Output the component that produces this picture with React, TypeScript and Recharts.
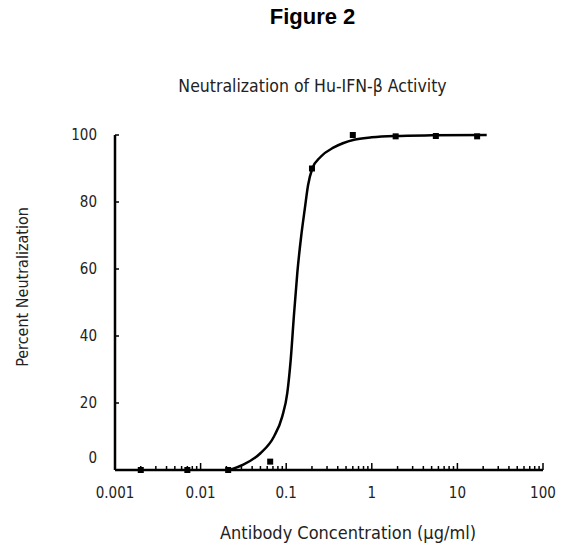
import React from 'react';
import { ComposedChart, Line, Scatter, XAxis, YAxis } from 'recharts';

// measured points (antibody conc, % neutralization)
const concentrations = [0.002, 0.007, 0.021, 0.065, 0.2, 0.6, 1.9, 5.6, 17];
const neutralization = [0, 0, 0, 2.5, 90, 100, 99.6, 99.7, 99.6];

// fitted curve
const curveX = [0.022, 0.031, 0.05, 0.072, 0.09, 0.103, 0.113, 0.123, 0.135, 0.15, 0.165, 0.18, 0.202, 0.253, 0.36, 0.62, 1.0, 1.85, 5, 22];
const curveY = [0, 1.5, 5, 10, 16, 23, 33, 46, 59, 70, 78, 85, 90, 93.5, 96.3, 98.6, 99.3, 99.7, 99.9, 100];

const xDecades = [0.001, 0.01, 0.1, 1, 10, 100];
const xDecadeLabels = ['0.001', '0.01', '0.1', '1', '10', '100'];
const yTicks = [0, 20, 40, 60, 80, 100];

const points = concentrations.map((x, i) => ({ x, y: neutralization[i] }));
const curve = curveX.map((x, i) => ({ x, y: curveY[i] }));

// decade ticks plus the 2..9 minor ticks in between
const xTicks: number[] = [];
xDecades.forEach((d, i) => {
  xTicks.push(d);
  if (i < xDecades.length - 1) {
    for (let m = 2; m <= 9; m++) xTicks.push(+(d * m).toPrecision(3));
  }
});

const FONT = "'DejaVu Sans Condensed', 'Liberation Sans Narrow', Arial, sans-serif";

const XTick = (props: any) => {
  const { x, y, payload } = props;
  const idx = xDecades.indexOf(payload.value);
  const major = idx >= 0;
  return (
    <g>
      <line x1={x} x2={x} y1={y} y2={y - (major ? 7 : 4)} stroke="#000" strokeWidth={1.5} />
      {major && (
        <text x={x} y={y + 28} textAnchor="middle" fontSize={15} fill="#222" fontFamily={FONT}>
          {xDecadeLabels[idx]}
        </text>
      )}
    </g>
  );
};

const YTick = (props: any) => {
  const { x, y, payload } = props;
  const v = payload.value;
  return (
    <g>
      {v > 0 && <line x1={x} x2={x + 4} y1={y} y2={y} stroke="#000" strokeWidth={1.5} />}
      <text x={x - 18} y={v === 0 ? y - 7 : y + 5} textAnchor="end" fontSize={15} fill="#222" fontFamily={FONT}>
        {v}
      </text>
    </g>
  );
};

const SquareDot = (props: any) => {
  const { cx, cy } = props;
  return <rect x={cx - 3} y={cy - 3} width={6} height={6} fill="#000" />;
};

export default function App() {
  return (
    <div style={{ position: 'absolute', left: 0, top: 0, width: 565, height: 546, background: '#fff' }}>
      <div style={{ position: 'absolute', left: 0, width: 565, top: 4, textAlign: 'center', paddingLeft: 60, boxSizing: 'border-box', fontFamily: 'Arial, "Liberation Sans", sans-serif', fontWeight: 'bold', fontSize: 22 }}>
        Figure 2
      </div>
      <div style={{ position: 'absolute', left: 0, width: 565, top: 76, textAlign: 'center', paddingLeft: 60, boxSizing: 'border-box', fontFamily: FONT, fontSize: 17.5, color: '#222' }}>
        Neutralization of Hu-IFN-β Activity
      </div>
      <div style={{ position: 'absolute', left: 0, width: 565, top: 522, textAlign: 'center', paddingLeft: 131, boxSizing: 'border-box', fontFamily: FONT, fontSize: 18, color: '#222', whiteSpace: 'nowrap' }}>
        Antibody Concentration (μg/ml)
      </div>
      <div style={{ position: 'absolute', left: 22, top: 287, width: 0, height: 0 }}>
        <div style={{ position: 'absolute', transform: 'translate(-50%, -50%) rotate(-90deg)', whiteSpace: 'nowrap', fontFamily: FONT, fontSize: 16, color: '#222' }}>
          Percent Neutralization
        </div>
      </div>
      <ComposedChart width={565} height={546} margin={{ top: 135, right: 22, bottom: 46, left: 55 }}>
        <XAxis
          dataKey="x"
          type="number"
          scale="log"
          domain={[0.001, 100]}
          ticks={xTicks}
          interval={0}
          allowDataOverflow
          height={30}
          tickSize={0}
          tickMargin={0}
          axisLine={{ stroke: '#000', strokeWidth: 2.5 }}
          tickLine={false}
          tick={<XTick />}
        />
        <YAxis
          dataKey="y"
          type="number"
          domain={[0, 100]}
          ticks={yTicks}
          width={60}
          tickSize={0}
          tickMargin={0}
          axisLine={{ stroke: '#000', strokeWidth: 2.5 }}
          tickLine={false}
          tick={<YTick />}
        />
        <Line
          data={curve}
          dataKey="y"
          type="monotone"
          stroke="#000"
          strokeWidth={2.5}
          dot={false}
          isAnimationActive={false}
        />
        <Scatter data={points} dataKey="y" fill="#000" shape={<SquareDot />} isAnimationActive={false} />
      </ComposedChart>
    </div>
  );
}
